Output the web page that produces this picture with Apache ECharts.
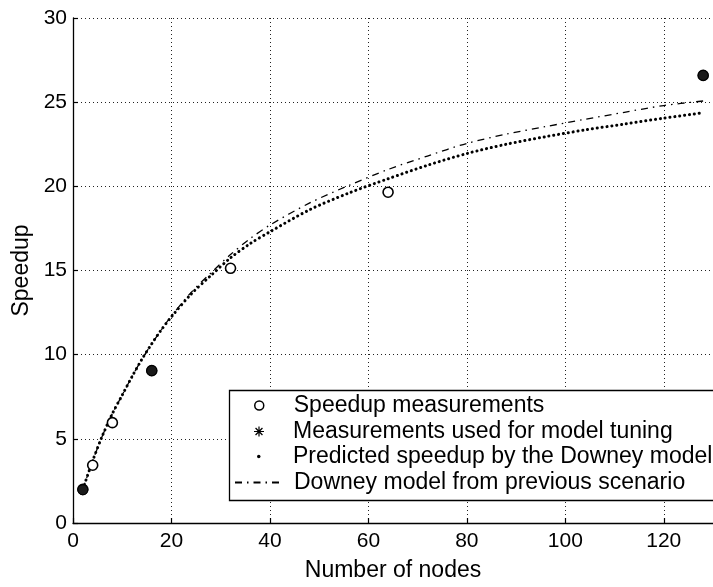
<!DOCTYPE html>
<html>
<head>
<meta charset="utf-8">
<script src="https://cdn.jsdelivr.net/npm/echarts@6/dist/echarts.min.js"></script>
<style>html,body{margin:0;padding:0;background:#fff}#c{width:713px;height:587px}</style>
</head>
<body>
<div id="c"></div>
<script>
// ---- data ----
const measX = [2, 4, 8, 16, 32, 64, 128];
const measY = [2.0, 3.43, 5.96, 9.05, 15.13, 19.65, 26.59];
const tuneX = [2, 16, 128];
const tuneY = [1.97, 9.05, 26.59];
const predX = [2, 4, 6, 8, 10, 12, 14, 16, 18, 20, 24, 28, 32, 36, 40, 48, 56, 64, 72, 80, 88, 96, 104, 112, 120, 128];
const predY = [2.0, 3.7, 5.2, 6.5, 7.6, 8.7, 9.73, 10.65, 11.5, 12.25, 13.6, 14.7, 15.75, 16.6, 17.3, 18.6, 19.6, 20.45, 21.25, 21.95, 22.5, 22.95, 23.35, 23.7, 24.05, 24.37];
const prevX = [2, 4, 6, 8, 10, 12, 14, 16, 18, 20, 24, 28, 32, 36, 40, 48, 56, 64, 72, 80, 88, 96, 104, 112, 120, 128];
const prevY = [2.0, 3.7, 5.2, 6.5, 7.6, 8.7, 9.73, 10.65, 11.5, 12.3, 13.7, 14.85, 15.95, 16.9, 17.7, 19.0, 20.05, 21.0, 21.8, 22.55, 23.1, 23.55, 23.98, 24.4, 24.8, 25.07];
const xTicks = [0, 20, 40, 60, 80, 100, 120];
const yTicks = [0, 5, 10, 15, 20, 25, 30];
const names = ['Speedup measurements', 'Measurements used for model tuning', 'Predicted speedup by the Downey model', 'Downey model from previous scenario'];
const xName = 'Number of nodes';
const yName = 'Speedup';

const zip = (a, b) => a.map((v, i) => [v, b[i]]);
const FONT = '"Liberation Sans", Arial, Helvetica, sans-serif';
const asterisk = 'path://M4.4,0 L5.6,0 L5.6,10 L4.4,10 Z M0,4.4 L10,4.4 L10,5.6 L0,5.6 Z M1.1,2.0 L2.0,1.1 L8.9,8.0 L8.0,8.9 Z M8.0,1.1 L8.9,2.0 L2.0,8.9 L1.1,8.0 Z';

const chart = echarts.init(document.getElementById('c'), null, {renderer: 'canvas'});
const legendBase = {
  orient: 'horizontal', padding: 0, selectedMode: false, z: 11
};
const lt = pad => ({fontFamily: FONT, fontSize: 23, color: '#000', padding: [0, 0, 0, pad]});
chart.setOption({
  animation: false,
  backgroundColor: '#fff',
  grid: {left: 73, top: 18, bottom: 56, right: -2, containLabel: false},
  xAxis: {
    type: 'value', min: 0, max: 130, interval: 20,
    name: xName, nameLocation: 'middle', nameGap: 36,
    nameTextStyle: {fontFamily: FONT, fontSize: 23, color: '#000'},
    axisLine: {show: true, lineStyle: {color: '#000', width: 1.3}},
    axisTick: {show: true, inside: true, length: 5, lineStyle: {color: '#000', width: 1.2}},
    axisLabel: {fontFamily: FONT, fontSize: 21, color: '#000', margin: 8, showMaxLabel: false,
      formatter: v => xTicks.indexOf(v) >= 0 ? String(v) : ''},
    splitLine: {show: true, lineStyle: {color: '#222', width: 1, type: [1, 3]}}
  },
  yAxis: {
    type: 'value', min: 0, max: 30, interval: 5,
    name: yName, nameLocation: 'middle', nameGap: 38,
    nameTextStyle: {fontFamily: FONT, fontSize: 23, color: '#000'},
    axisLine: {show: true, lineStyle: {color: '#000', width: 1.3}},
    axisTick: {show: true, inside: true, length: 5, lineStyle: {color: '#000', width: 1.2}},
    axisLabel: {fontFamily: FONT, fontSize: 21, color: '#000', margin: 6,
      formatter: v => yTicks.indexOf(v) >= 0 ? String(v) : ''},
    splitLine: {show: true, lineStyle: {color: '#222', width: 1, type: [1, 3]}}
  },
  graphic: [{
    type: 'rect', z: 10,
    shape: {x: 229.5, y: 390.5, width: 490, height: 110},
    style: {fill: '#fff', stroke: '#000', lineWidth: 1.3}
  }],
  legend: [
    Object.assign({}, legendBase, {data: [{name: names[0], icon: 'circle',
        itemStyle: {color: '#fff', borderColor: '#000', borderWidth: 1.5}}],
      left: 254, top: 394, itemWidth: 9, itemHeight: 9, textStyle: lt(25)}),
    Object.assign({}, legendBase, {data: [{name: names[1], icon: asterisk,
        itemStyle: {color: '#000', borderWidth: 0}}],
      left: 254, top: 420, itemWidth: 10, itemHeight: 10, textStyle: lt(24)}),
    Object.assign({}, legendBase, {data: [{name: names[2], icon: 'circle',
        itemStyle: {color: '#000', borderWidth: 0}}],
      left: 257, top: 445, itemWidth: 3.5, itemHeight: 3.5, textStyle: lt(27.5)}),
    Object.assign({}, legendBase, {data: [{name: names[3],
        itemStyle: {opacity: 0}}],
      left: 234, top: 471, itemWidth: 46, itemHeight: 10, textStyle: lt(8)})
  ],
  series: [
    {
      name: names[2], type: 'line', data: zip(predX, predY), smooth: 0.3,
      symbol: 'none', z: 3,
      itemStyle: {color: '#000'},
      lineStyle: {color: '#000', width: 3, type: [0.1, 4.8], cap: 'round'}
    },
    {
      name: names[3], type: 'line', data: zip(prevX, prevY), smooth: 0.3,
      symbol: 'none', z: 3,
      itemStyle: {color: '#000'},
      lineStyle: {color: '#000', width: 1.3, type: [7, 5, 1.5, 5]}
    },
    {
      name: names[0], type: 'scatter', data: zip(measX, measY),
      symbol: 'circle', symbolSize: 10, z: 4,
      itemStyle: {color: '#fff', borderColor: '#000', borderWidth: 1.6, opacity: 1}
    },
    {
      name: names[1], type: 'scatter', data: zip(tuneX, tuneY),
      symbol: 'circle', symbolSize: 10, z: 5,
      itemStyle: {color: '#1a1a1a', borderColor: '#000', borderWidth: 1, opacity: 1}
    }
  ]
});
</script>
</body>
</html>
